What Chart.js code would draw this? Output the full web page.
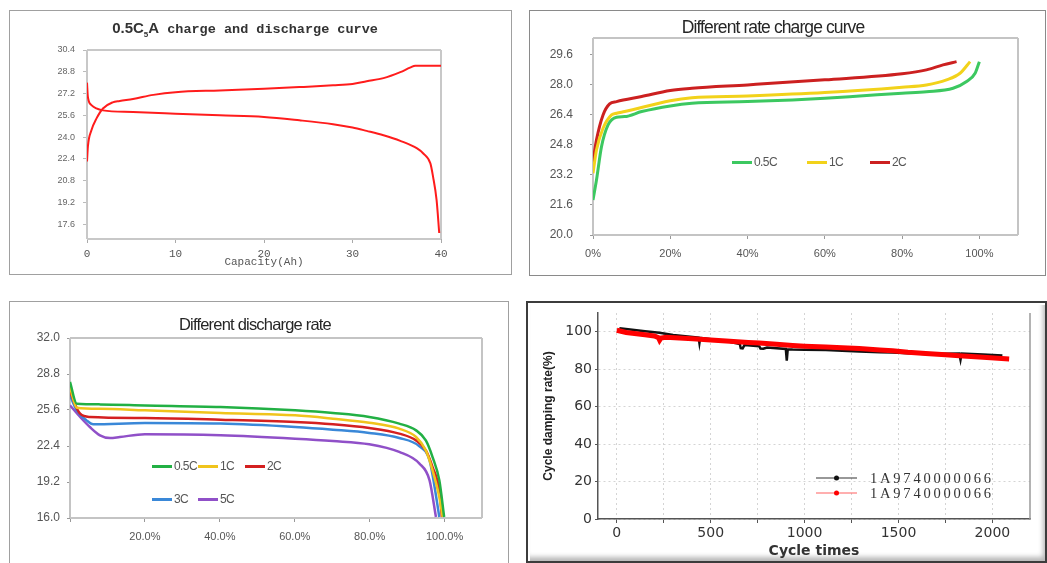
<!DOCTYPE html>
<html lang="en">
<head>
<meta charset="UTF-8">
<title>Battery charge / discharge curves</title>
<script src="https://cdn.jsdelivr.net/npm/chart.js"></script>
<style>
  body {
    margin: 0;
    width: 1047px;
    height: 563px;
    position: relative;
    overflow: hidden;
    background: #fff;
    font-family: "Liberation Sans", Arial, sans-serif;
  }
  .box { position: absolute; box-sizing: border-box; }
  #boxA { left: 9px; top: 10px; width: 503px; height: 265px; border: 1px solid #a0a0a0; }
  #boxB { left: 529px; top: 10px; width: 517px; height: 266px; border: 1px solid #8a8a8a; }
  #boxC { left: 9px; top: 301px; width: 500px; height: 264px; border: 1px solid #a0a0a0; }
  #boxD {
    left: 526px; top: 301px; width: 521px; height: 262px;
    border: 2px solid #3c3c3c;
    box-shadow: inset 2px 2px 0 #fff, inset -2px -4px 5px #b8b8b8;
  }
  canvas { position: absolute; }
  .ttl {
    position: absolute;
    white-space: nowrap;
    transform: translate(-50%, -50%);
    color: #262626;
  }
  .leg {
    position: absolute;
    white-space: nowrap;
    font-size: 12px;
    color: #555;
    letter-spacing: -0.6px;
    transform: translateY(-50%);
    display: flex;
    align-items: center;
  }
  .leg i { display: inline-block; width: 20px; height: 3px; margin-right: 2px; }
  .legD {
    position: absolute;
    white-space: nowrap;
    font-family: "Liberation Serif", serif;
    font-size: 14.5px;
    letter-spacing: 2.8px;
    color: #333;
    transform: translateY(-50%);
    display: flex;
    align-items: center;
  }
  .legD i { display: inline-block; width: 41px; height: 1px; margin-right: 13px; position: relative; }
  .legD i b { position: absolute; left: 18px; top: -2px; width: 5px; height: 5px; border-radius: 50%; }
</style>
</head>
<body>
  <div class="box" id="boxA"></div>
  <div class="box" id="boxB"></div>
  <div class="box" id="boxC"></div>
  <div class="box" id="boxD"></div>

  <canvas id="cA" width="503" height="265" style="left:9px;top:10px"></canvas>
  <canvas id="cB" width="515" height="266" style="left:530px;top:10px"></canvas>
  <canvas id="cC" width="500" height="261" style="left:9px;top:301px"></canvas>
  <canvas id="cD" width="519" height="262" style="left:527px;top:301px"></canvas>

  <div class="ttl" style="left:245px;top:29px;font-family:'Liberation Mono',monospace;font-weight:bold;font-size:13.5px;color:#333">
    <span style="font-family:'Liberation Sans',sans-serif;font-size:15px">0.5C<sub style="font-size:8px">5</sub>A</span> charge and discharge curve
  </div>
  <div class="ttl" style="left:773px;top:27px;font-size:17.5px;letter-spacing:-0.9px">Different rate charge curve</div>
  <div class="ttl" style="left:255px;top:324px;font-size:16.5px;letter-spacing:-0.8px">Different discharge rate</div>

  <div id="legends"></div>

<script>
  // ---- panel A: 0.5C5A charge and discharge, x = capacity (Ah), y = voltage
  const capCharge = [0, 0.1, 0.5, 1.06, 1.8, 2.9, 3.7, 5.2, 7.5, 10, 15, 20, 24, 27.8, 30, 31.6, 33.5, 35.4, 36.5, 37.1, 40];
  const voltCharge = [22.2, 23.3, 24.5, 25.35, 26.1, 26.55, 26.65, 26.8, 27.1, 27.3, 27.43, 27.55, 27.67, 27.8, 27.9, 28.1, 28.33, 28.77, 29.1, 29.25, 29.25];
  const capDischarge = [0, 0.1, 0.5, 1.06, 1.8, 5.2, 10, 15, 20, 24, 27.8, 30, 31.6, 33.5, 35.4, 37.3, 38, 38.8, 39.1, 39.5, 39.8];
  const voltDischarge = [28.0, 26.95, 26.35, 26.1, 25.96, 25.84, 25.72, 25.6, 25.48, 25.23, 24.94, 24.7, 24.45, 24.13, 23.72, 23.16, 22.79, 22.06, 21.09, 19.38, 16.94];
  const capTicks = [0, 10, 20, 30, 40];
  const voltTicksA = [17.6, 19.2, 20.8, 22.4, 24.0, 25.6, 27.2, 28.8, 30.4];

  // ---- panel B: charge at different rates, x = % of capacity
  const chargeLabels = ['0.5C', '1C', '2C'];
  const chargePct = [
    [0, 0.9, 2.2, 3.9, 6.1, 8.2, 12.6, 20, 25.6, 40, 51.6, 60, 69, 80, 86.3, 93.2, 96.7, 98.9, 100],
    [0, 0.9, 2.6, 4.8, 6.1, 8.2, 20, 25.6, 40, 60, 80, 86.3, 91.5, 95, 97.6],
    [0, 0.9, 2.6, 4.3, 6.1, 12.6, 20, 25.6, 40, 60, 80, 86.3, 90.6, 94.1]
  ];
  const chargeVolt = [
    [21.87, 22.93, 24.71, 25.87, 26.28, 26.31, 26.58, 26.88, 27.02, 27.11, 27.2, 27.29, 27.41, 27.56, 27.64, 27.82, 28.18, 28.62, 29.24],
    [23.29, 24.53, 25.69, 26.4, 26.49, 26.58, 27.16, 27.32, 27.41, 27.59, 27.88, 28.0, 28.27, 28.62, 29.24],
    [23.91, 25.07, 26.4, 26.99, 27.11, 27.38, 27.7, 27.82, 28.0, 28.27, 28.59, 28.8, 29.07, 29.24]
  ];
  const chargeColors = ['#3cc860', '#f2d21a', '#cc2020'];
  const pctTicksB = [0, 20, 40, 60, 80, 100];
  const voltTicksB = [20.0, 21.6, 23.2, 24.8, 26.4, 28.0, 29.6];

  // ---- panel C: discharge at different rates
  const dischargeLabels = ['0.5C', '1C', '2C', '3C', '5C'];
  const dischargePct = [
    [0, 1.8, 8, 20, 40.2, 60.1, 70.2, 79.9, 87.9, 92.4, 95, 96.8, 98.6, 99.9],
    [0, 1.8, 8, 20, 40.2, 60.1, 70.2, 79.9, 87.9, 92.4, 95, 96.8, 98.6, 99.5],
    [0, 0.9, 2.7, 5.3, 20, 40.2, 60.1, 70.2, 79.9, 87.9, 92.4, 95, 96.8, 98.6, 99.3],
    [0, 1.8, 4.4, 6.2, 20, 40.2, 60.1, 70.2, 79.9, 87.9, 93.3, 96, 97.2, 98.6],
    [0, 2.7, 5.3, 8, 10.7, 13.3, 20, 40.2, 60.1, 70.2, 79.9, 87.9, 93.3, 96, 97.7]
  ];
  const dischargeVolt = [
    [28.09, 26.16, 26.1, 26.01, 25.87, 25.57, 25.33, 24.98, 24.39, 23.79, 22.9, 21.42, 19.35, 16.09],
    [27.64, 25.81, 25.72, 25.57, 25.33, 25.13, 24.83, 24.47, 23.94, 23.2, 22.01, 20.24, 17.87, 16.09],
    [27.35, 26.46, 25.27, 24.98, 24.89, 24.74, 24.53, 24.33, 24.0, 23.5, 22.9, 22.01, 20.53, 18.46, 16.09],
    [26.9, 25.57, 24.68, 24.33, 24.44, 24.39, 24.09, 23.85, 23.56, 23.11, 22.37, 21.13, 19.05, 16.09],
    [26.01, 24.98, 24.09, 23.35, 23.11, 23.2, 23.44, 23.35, 23.05, 22.84, 22.55, 21.87, 20.83, 19.35, 16.09]
  ];
  const dischargeColors = ['#22b044', '#f0c41c', '#d42020', '#3a88d8', '#9050c8'];
  const pctTicksC = [0, 20, 40, 60, 80, 100];
  const voltTicksC = [16.0, 19.2, 22.4, 25.6, 28.8, 32.0];

  // ---- panel D: cycle life
  const cycleLabels = ['1A9740000066', '1A9740000066'];
  const cycleBlackX = [14, 60, 150, 227, 300, 404, 436, 440, 444, 502, 600, 655, 660, 670, 680, 759, 765, 780, 800, 900, 905, 910, 936, 1000, 1113, 1200, 1291, 1400, 1468, 1550, 1645, 1750, 1823, 1830, 1836, 1950, 2053];
  const cycleBlackY = [101.8, 101.3, 100.2, 99.4, 98.3, 97.2, 96.8, 94.0, 96.7, 96.0, 94.6, 93.4, 91.2, 91.1, 92.9, 92.2, 91.0, 90.9, 91.6, 90.8, 84.5, 90.6, 90.5, 90.4, 90.3, 89.8, 89.4, 89.0, 88.9, 88.5, 88.1, 88.3, 88.4, 85.0, 88.3, 87.9, 87.3];
  const cycleRedX = [0, 50, 150, 200, 222, 228, 235, 262, 404, 500, 582, 700, 759, 850, 936, 1000, 1113, 1200, 1291, 1400, 1468, 1550, 1645, 1750, 1823, 1950, 2089];
  const cycleRedY = [100.8, 99.6, 98.4, 97.7, 96.8, 95.5, 96.6, 97.0, 96.2, 95.6, 95.1, 94.3, 94.0, 93.3, 92.7, 92.3, 91.8, 91.4, 91.0, 90.3, 89.9, 89.1, 88.4, 87.7, 87.2, 86.4, 85.5];
  const cycleColors = ['#111111', '#ff0000'];
  const cycleTicks = [0, 250, 500, 750, 1000, 1250, 1500, 1750, 2000];
  const rateTicks = [0, 10, 20, 30, 40, 50, 60, 70, 80, 90, 100, 110];

  const pts = (xs, ys) => xs.map((x, i) => ({ x: x, y: ys[i] }));
  const setTicks = list => scale => { scale.ticks = list.map(v => ({ value: v })); };

  // draws a plain frame around the plot area
  const framePlugin = {
    id: 'frame',
    beforeDatasetsDraw(chart, args, opts) {
      const a = chart.chartArea, ctx = chart.ctx;
      const sides = opts.sides || 'tlrb';
      ctx.save();
      ctx.strokeStyle = opts.color || '#c8c8c8';
      ctx.lineWidth = opts.width || 1;
      ctx.beginPath();
      if (sides.includes('t')) { ctx.moveTo(a.left, a.top); ctx.lineTo(a.right, a.top); }
      if (sides.includes('r')) { ctx.moveTo(a.right, a.top); ctx.lineTo(a.right, a.bottom); }
      if (sides.includes('b')) { ctx.moveTo(a.left, a.bottom); ctx.lineTo(a.right, a.bottom); }
      if (sides.includes('l')) { ctx.moveTo(a.left, a.top); ctx.lineTo(a.left, a.bottom); }
      ctx.stroke();
      ctx.restore();
    }
  };

  Chart.defaults.animation = false;
  Chart.defaults.responsive = false;
  Chart.defaults.plugins.legend.display = false;
  Chart.defaults.plugins.tooltip.enabled = false;

  // Panel A
  new Chart(document.getElementById('cA'), {
    type: 'line',
    data: {
      datasets: [
        { label: 'charge', data: pts(capCharge, voltCharge) },
        { label: 'discharge', data: pts(capDischarge, voltDischarge) }
      ].map(d => Object.assign(d, {
        borderColor: '#ff1c1c', borderWidth: 2, pointRadius: 0,
        tension: 0.4, cubicInterpolationMode: 'monotone'
      }))
    },
    options: {
      layout: { padding: { left: 46, top: 40, right: 71, bottom: 0 } },
      plugins: { frame: { color: '#c8c8c8', width: 2 } },
      scales: {
        x: {
          type: 'linear', min: 0, max: 40,
          afterBuildTicks: setTicks(capTicks),
          afterFit: s => { s.height = 36; },
          grid: { drawOnChartArea: false, tickLength: 4, color: '#aaa' },
          border: { display: false },
          ticks: { padding: 4, color: '#555', font: { family: 'Liberation Mono', size: 11 }, maxRotation: 0 },
          title: { display: true, text: 'Capacity(Ah)', color: '#555', padding: { top: 0, bottom: 6 },
                   font: { family: 'Liberation Mono', size: 11 } }
        },
        y: {
          min: 16.5, max: 30.4,
          afterBuildTicks: setTicks(voltTicksA),
          afterFit: s => { s.width = 32; },
          grid: { drawOnChartArea: false, tickLength: 4, color: '#bbb' },
          border: { display: false },
          ticks: { padding: 8, color: '#666', font: { family: 'Liberation Sans', size: 9 },
                   callback: v => v.toFixed(1) }
        }
      }
    },
    plugins: [framePlugin]
  });

  // Panel B
  new Chart(document.getElementById('cB'), {
    type: 'line',
    data: {
      datasets: chargeLabels.map((lab, i) => ({
        label: lab, data: pts(chargePct[i], chargeVolt[i]),
        borderColor: chargeColors[i], borderWidth: 3, pointRadius: 0,
        tension: 0.4, cubicInterpolationMode: 'monotone'
      }))
    },
    options: {
      layout: { padding: { left: 13, top: 28, right: 27, bottom: 0 } },
      plugins: { frame: { color: '#c4c4c4', width: 2 } },
      scales: {
        x: {
          type: 'linear', min: 0, max: 110,
          afterBuildTicks: setTicks(pctTicksB),
          afterFit: s => { s.height = 41; },
          grid: { drawOnChartArea: false, tickLength: 4, color: '#999' },
          border: { display: false },
          ticks: { padding: 8, color: '#555', font: { size: 11 }, maxRotation: 0, callback: v => v + '%' }
        },
        y: {
          min: 20, max: 30.5,
          afterBuildTicks: setTicks(voltTicksB),
          afterFit: s => { s.width = 50; },
          grid: { drawOnChartArea: false, tickLength: 3, color: '#999' },
          border: { display: false },
          ticks: { padding: 17, color: '#555', font: { size: 12 }, callback: v => v.toFixed(1) }
        }
      }
    },
    plugins: [framePlugin]
  });

  // Panel C
  new Chart(document.getElementById('cC'), {
    type: 'line',
    data: {
      datasets: dischargeLabels.map((lab, i) => ({
        label: lab, data: pts(dischargePct[i], dischargeVolt[i]),
        borderColor: dischargeColors[i], borderWidth: 2.5, pointRadius: 0,
        tension: 0.4, cubicInterpolationMode: 'monotone'
      }))
    },
    options: {
      layout: { padding: { left: 16, top: 37, right: 27, bottom: 0 } },
      plugins: { frame: { color: '#c4c4c4', width: 2 } },
      scales: {
        x: {
          type: 'linear', min: 0, max: 110,
          afterBuildTicks: setTicks(pctTicksC),
          afterFit: s => { s.height = 44; },
          grid: { drawOnChartArea: false, tickLength: 4, color: '#999' },
          border: { display: false },
          ticks: { padding: 8, color: '#555', font: { size: 11 }, maxRotation: 0,
                   callback: v => v === 0 ? '' : v.toFixed(1) + '%' }
        },
        y: {
          min: 16, max: 32,
          afterBuildTicks: setTicks(voltTicksC),
          afterFit: s => { s.width = 45; },
          grid: { drawOnChartArea: false, tickLength: 3, color: '#999' },
          border: { display: false },
          ticks: { padding: 7, color: '#555', font: { size: 12 }, callback: v => v.toFixed(1) }
        }
      }
    },
    plugins: [framePlugin]
  });

  // Panel D
  new Chart(document.getElementById('cD'), {
    type: 'line',
    data: {
      datasets: [
        { label: cycleLabels[0], data: pts(cycleBlackX, cycleBlackY), borderColor: cycleColors[0],
          borderWidth: 2.5, order: 2 },
        { label: cycleLabels[1], data: pts(cycleRedX, cycleRedY), borderColor: cycleColors[1],
          borderWidth: 5, order: 1 }
      ].map(d => Object.assign(d, { pointRadius: 0, tension: 0 }))
    },
    options: {
      layout: { padding: { left: 0, top: 12, right: 16, bottom: 0 } },
      plugins: { frame: { color: '#9a9a9a', width: 1.5, sides: 'r' } },
      scales: {
        x: {
          type: 'linear', min: -100, max: 2200,
          afterBuildTicks: setTicks(cycleTicks),
          afterFit: s => { s.height = 44; },
          grid: { color: '#d4d4d4', tickColor: '#555', tickLength: 4 },
          border: { display: true, color: '#555', width: 1.5, dash: [2, 3] },
          ticks: { padding: 2, color: '#333', font: { family: 'DejaVu Sans', size: 14 }, maxRotation: 0,
                   callback: v => v % 500 === 0 ? v : '' },
          title: { display: true, text: 'Cycle times', color: '#333', padding: { top: 0, bottom: 3 },
                   font: { family: 'DejaVu Sans', size: 14, weight: 'bold' } }
        },
        y: {
          min: 0, max: 110,
          afterBuildTicks: setTicks(rateTicks),
          afterFit: s => { s.width = 71; },
          grid: { color: '#d4d4d4', tickColor: '#555', tickLength: 3 },
          border: { display: true, color: '#555', width: 1.5, dash: [2, 3] },
          ticks: { padding: 3, color: '#333', font: { family: 'DejaVu Sans', size: 14 },
                   callback: v => v % 20 === 0 && v <= 100 ? v : '' },
          title: { display: true, text: 'Cycle damping rate(%)', color: '#222', padding: { top: 14, bottom: 0 },
                   font: { family: 'Liberation Sans', size: 12, weight: 'bold' } }
        }
      }
    },
    plugins: [framePlugin]
  });

  // legends placed inside the plot areas, as in the source figure
  const legBox = document.getElementById('legends');
  function addLeg(x, y, color, text) {
    const d = document.createElement('div');
    d.className = 'leg';
    d.style.left = x + 'px';
    d.style.top = y + 'px';
    d.innerHTML = '<i style="background:' + color + '"></i>' + text;
    legBox.appendChild(d);
  }
  const legPosB = [[732, 162], [807, 162], [870, 162]];
  chargeLabels.forEach((t, i) => addLeg(legPosB[i][0], legPosB[i][1], chargeColors[i], t));
  const legPosC = [[152, 466], [198, 466], [245, 466], [152, 499], [198, 499]];
  dischargeLabels.forEach((t, i) => addLeg(legPosC[i][0], legPosC[i][1], dischargeColors[i], t));

  const legPosD = [[816, 478], [816, 493]];
  cycleLabels.forEach((t, i) => {
    const d = document.createElement('div');
    d.className = 'legD';
    d.style.left = legPosD[i][0] + 'px';
    d.style.top = legPosD[i][1] + 'px';
    const line = i === 0 ? '#333' : '#ff6060';
    d.innerHTML = '<i style="background:' + line + '"><b style="background:' + cycleColors[i] + '"></b></i>' + t;
    legBox.appendChild(d);
  });
</script>
</body>
</html>
